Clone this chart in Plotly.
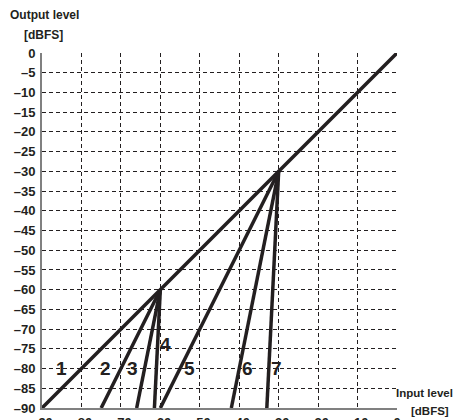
import plotly.graph_objects as go

# Data
x_ticks = [-90, -80, -70, -60, -50, -40, -30, -20, -10, 0]
x_tick_labels = ["–90", "–80", "–70", "–60", "–50", "–40", "–30", "–20", "–10", "0"]
y_ticks = list(range(-90, 1, 5))
y_tick_labels = [("–" + str(-v)) if v < 0 else "0" for v in y_ticks]

line1_x = [-90, -60, -30, 0]
line1_y = [-90, -60, -30, 0]
line2_x = [-75, -60]
line2_y = [-90, -60]
line3_x = [-66, -60]
line3_y = [-90, -60]
line4_x = [-61.5, -60]
line4_y = [-90, -60]
line5_x = [-60, -30]
line5_y = [-90, -30]
line6_x = [-42, -30]
line6_y = [-90, -30]
line7_x = [-33, -30]
line7_y = [-90, -30]

curve_names = ["1", "2", "3", "4", "5", "6", "7"]
label_x = [-85, -74, -67, -58.6, -52.5, -37.8, -30.5]
label_y = [-80, -80, -80, -74, -80, -80, -80]

FONT = "Liberation Sans, Arial, sans-serif"
INK = "#231f20"

# The page body has an 8px margin, so the figure is shifted by 8px.
OFF = 8
W, H = 463 - OFF, 420 - OFF
L, T = 42 - OFF, 53 - OFF
PW = 355
R = W - L - PW
B = H - T - PW

fig = go.Figure()
for xs, ys in [(line1_x, line1_y), (line2_x, line2_y), (line3_x, line3_y),
               (line4_x, line4_y), (line5_x, line5_y), (line6_x, line6_y),
               (line7_x, line7_y)]:
    fig.add_trace(go.Scatter(x=xs, y=ys, mode="lines",
                             line=dict(color=INK, width=3.5),
                             showlegend=False, hoverinfo="skip"))

for n, lx, ly in zip(curve_names, label_x, label_y):
    fig.add_annotation(x=lx, y=ly, text="<b>" + n + "</b>", showarrow=False,
                       font=dict(family=FONT, size=19, color=INK))

# paper coordinates from window pixels: plot area spans 42..397 and 53..408
def px(xp):
    return (xp - 42) / PW

def py(yp):
    return (408 - yp) / PW

fig.add_annotation(xref="paper", yref="paper", x=px(8), y=py(15), xanchor="left",
                   yanchor="middle", text="<b>Output level</b>", showarrow=False,
                   font=dict(family=FONT, size=12, color=INK))
fig.add_annotation(xref="paper", yref="paper", x=px(43), y=py(35), xanchor="center",
                   yanchor="middle", text="<b>[dBFS]</b>", showarrow=False,
                   font=dict(family=FONT, size=12, color=INK))
fig.add_annotation(xref="paper", yref="paper", x=px(455), y=py(393), xanchor="right",
                   yanchor="middle", text="<b>Input level</b>", showarrow=False,
                   font=dict(family=FONT, size=11.5, color=INK))
fig.add_annotation(xref="paper", yref="paper", x=px(430), y=py(411), xanchor="center",
                   yanchor="middle", text="<b>[dBFS]</b>", showarrow=False,
                   font=dict(family=FONT, size=11.5, color=INK))

fig.update_xaxes(range=[-90, 0], tickvals=x_ticks,
                 ticktext=["<b>" + t + "</b>" for t in x_tick_labels],
                 showgrid=True, gridcolor=INK, griddash="4px,3px", gridwidth=1,
                 showline=True, linecolor="#808080", linewidth=2,
                 zeroline=False, ticks="", ticklabelstandoff=1,
                 tickfont=dict(family=FONT, size=13, color=INK),
                 automargin=False, fixedrange=True)
fig.update_yaxes(range=[-90, 0], tickvals=y_ticks,
                 ticktext=["<b>" + t + "</b>" for t in y_tick_labels],
                 showgrid=True, gridcolor=INK, griddash="4px,3px", gridwidth=1,
                 showline=True, linecolor="#808080", linewidth=2,
                 zeroline=False, ticks="outside", ticklen=2, tickcolor="rgba(0,0,0,0)",
                 tickfont=dict(family=FONT, size=13, color=INK),
                 automargin=False, fixedrange=True)

fig.update_layout(width=W, height=H,
                  margin=dict(l=L, r=R, t=T, b=B),
                  paper_bgcolor="white", plot_bgcolor="white",
                  font=dict(family=FONT, color=INK))

fig.write_html("out.html")
